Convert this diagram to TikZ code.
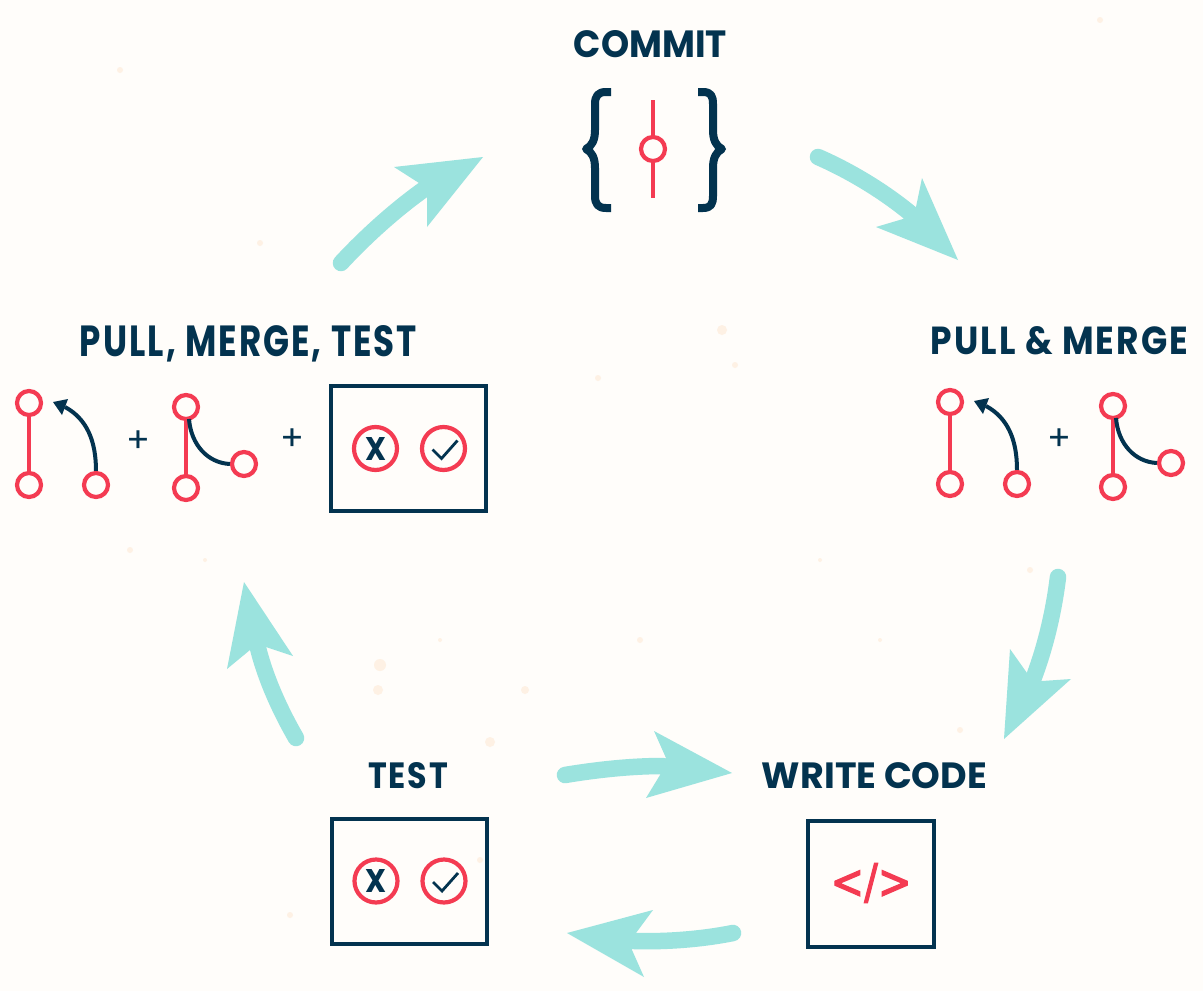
\documentclass[tikz,border=0pt]{standalone}
\usepackage{fontspec}
\usepackage{graphicx}
\setmainfont{Poppins}
\newfontfamily\spaced{Poppins}[LetterSpace=6]
\newfontfamily\symb{DejaVu Sans}[FakeBold=2.5]
\definecolor{navy}{HTML}{03334F}
\definecolor{coral}{HTML}{F43B52}
\definecolor{teal2}{HTML}{9BE3DE}
\definecolor{paper}{HTML}{FFFDFA}
\definecolor{speck}{HTML}{FEF1E4}
\newcommand{\fitlabel}[3]{\resizebox{#1pt}{#2pt}{\bfseries #3}}
\usetikzlibrary{calc}
\tikzset{
  title/.style={text=navy,inner sep=0pt,anchor=center},
  ring/.style={circle,draw=coral,line width=4.2pt,minimum size=24pt,inner sep=0pt},
  bigring/.style={circle,draw=coral,line width=4.2pt,minimum size=43pt,inner sep=0pt},
  redline/.style={draw=coral,line width=4pt},
  navyline/.style={draw=navy,line width=4pt},
  framebox/.style={draw=navy,line width=4pt,inner sep=0pt},
  bracket/.style={draw=navy,line width=8pt,line join=round},
  plussign/.style={text=navy,inner sep=0pt,font=\fontsize{35}{35}\selectfont},
  shaft/.style={draw=teal2,line width=16.5pt,line cap=round},
  tealhead/.style={fill=teal2,draw=none},
  pull/.pic={
    \node[ring] (top) at (0,0) {};
    \node[ring] (bot) at (0,82) {};
    \node[ring] (src) at (67,82) {};
    \draw[redline] (top) -- (bot);
    \coordinate (n) at (36,4);
    \coordinate (tip) at (24,-1);
    \draw[navyline] (src.north) .. controls (67,38) and (58,16) .. (n);
    \fill[navy] (tip) -- (39,-4) -- (n) -- (33,12) -- cycle;
  },
  merge/.pic={
    \node[ring] (top) at (0,0) {};
    \node[ring] (bot) at (0,81) {};
    \node[ring] (src) at (58,57) {};
    \draw[redline] (top) -- (bot);
    \coordinate (b) at (3,12);
    \draw[navyline] (b) .. controls (5,38) and (22,56) .. (src.west);
  },
  testpanel/.pic={
    \node[framebox,minimum width=155pt,minimum height=125pt] (frame) at (0,0) {};
    \node[bigring] (fail) at (-33,0) {};
    \node[bigring] (pass) at (35,0) {};
    \node[text=navy,inner sep=0pt] (x) at (fail.center) {\fitlabel{21}{23}{X}};
    \coordinate (c1) at ($(pass.center)+(-11,1)$);
    \coordinate (c2) at ($(pass.center)+(-2,10)$);
    \coordinate (c3) at ($(pass.center)+(14,-8)$);
    \draw[draw=navy,line width=2.8pt] (c1) -- (c2) -- (c3);
  }
}
\begin{document}
\begin{tikzpicture}[x=1pt,y=-1pt]
\useasboundingbox (0,0) rectangle (1203,991);
\fill[paper] (0,0) rectangle (1203,991);
% faint paper speckles
\foreach \a/\b/\r in {722/330/5,380/665/6,378/690/5,525/690/4,490/742/5,598/378/3,
  260/243/3,735/365/3,1100/20/3,130/550/3,640/640/3,960/730/3,820/560/2,205/560/2,
  880/640/2,290/915/3,1030/570/3,480/860/3,120/70/3,440/640/2}
  \fill[speck] (\a,\b) circle (\r);

% titles
\node[title] (tcommit) at (650.5,44) {\fitlabel{153}{27}{COMMIT}};
\node[title] (tpmt) at (248.5,343.5) {\fitlabel{337}{31}{\spaced PULL, MERGE, TEST}};
\node[title] (tpm) at (1059.5,341) {\fitlabel{257}{28}{\spaced PULL \& MERGE}};
\node[title] (ttest) at (408,776) {\fitlabel{80}{26}{\spaced TEST}};
\node[title] (twrite) at (874.5,776) {\fitlabel{225}{26}{WRITE CODE}};

% commit icon
\node[ring] (cring) at (653,149) {};
\coordinate (ctop) at (653,100);
\coordinate (cbot) at (653,198);
\draw[redline] (ctop) -- (cring);
\draw[redline] (cring) -- (cbot);
\draw[bracket] (611,92) -- (606,92) .. controls (598,92) and (595,96) .. (595,104) -- (595,130) .. controls (595,140) and (592,146) .. (586,149) .. controls (592,152) and (595,158) .. (595,168) -- (595,196) .. controls (595,204) and (598,208) .. (606,208) -- (611,208);
\draw[bracket] (698,92) -- (703,92) .. controls (711,92) and (713,96) .. (713,104) -- (713,130) .. controls (713,140) and (716,146) .. (722,149) .. controls (716,152) and (713,158) .. (713,168) -- (713,196) .. controls (713,204) and (711,208) .. (703,208) -- (698,208);

% pull merge test group
\pic (a) at (29,403) {pull};
\node[plussign] (plusa) at (138,442) {+};
\pic (b) at (186,407) {merge};
\node[plussign] (plusb) at (292,440) {+};
\pic (c) at (408.5,448.5) {testpanel};

% pull and merge group
\pic (d) at (950,402) {pull};
\node[plussign] (plusc) at (1059,440) {+};
\pic (e) at (1113,406) {merge};

% test
\pic (f) at (409,881) {testpanel};

% write code
\node[framebox,minimum width=126pt,minimum height=126pt] (codebox) at (871,884) {};
\node[text=coral,inner sep=0pt] (codetext) at (871,883) {\resizebox{81pt}{35pt}{\symb </>}};

% arrows
\coordinate (s1) at (341,263); \coordinate (n1) at (423,190);
\draw[shaft] (s1) .. controls (365,237) and (395,210) .. (n1);
\fill[tealhead] (483,157) -- (394,167) -- (419,183) -- (427,197) -- (427,227) -- cycle;

\coordinate (s2) at (818,157); \coordinate (n2) at (910,213);
\draw[shaft] (s2) .. controls (848,170) and (882,190) .. (n2);
\fill[tealhead] (958,260) -- (922,178) -- (916,207) -- (903,219) -- (876,227) -- cycle;

\coordinate (s3) at (1058,577); \coordinate (n3) at (1034,677);
\draw[shaft] (s3) .. controls (1054,610) and (1046,645) .. (n3);
\fill[tealhead] (1004,739) -- (1071,679) -- (1042,681) -- (1027,673) -- (1010,649) -- cycle;

\coordinate (s4) at (296,738); \coordinate (n4) at (258,648);
\draw[shaft] (s4) .. controls (281,712) and (266,680) .. (n4);
\fill[tealhead] (244,582) -- (293,656) -- (266,647) -- (250,650) -- (227,669) -- cycle;

\coordinate (s5) at (565,775); \coordinate (n5) at (663,766);
\draw[shaft] (s5) .. controls (595,770) and (630,766) .. (n5);
\fill[tealhead] (732,773) -- (654,731) -- (666,758) -- (660,775) -- (646,798) -- cycle;

\coordinate (s6) at (733,933); \coordinate (n6) at (634,941);
\draw[shaft] (s6) .. controls (703,939) and (668,942) .. (n6);
\fill[tealhead] (567,933) -- (653,910) -- (636,933) -- (632,950) -- (644,977) -- cycle;
\end{tikzpicture}
\end{document}
